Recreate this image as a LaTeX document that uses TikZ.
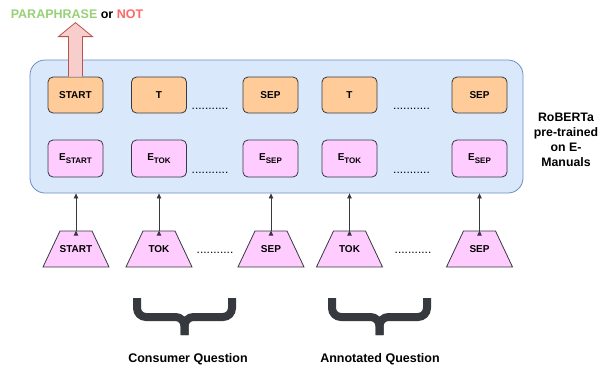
\documentclass[tikz,border=0pt]{standalone}
\usepackage{fontspec}
\setmainfont{Liberation Sans}
\usetikzlibrary{arrows.meta,shapes.geometric}

\definecolor{boxblue}{HTML}{DAE8FC}
\definecolor{lineblue}{HTML}{6C8EBF}
\definecolor{boxorange}{HTML}{FFCC99}
\definecolor{boxpink}{HTML}{FFCCFF}
\definecolor{darkline}{HTML}{36393D}
\definecolor{arrowfill}{HTML}{F8CECC}
\definecolor{arrowline}{HTML}{B85450}
\definecolor{paragreen}{HTML}{97D077}
\definecolor{notred}{HTML}{FF6666}

\newcommand{\emb}[1]{E\raisebox{-2.5pt}{\fontsize{8}{9}\selectfont #1}}
\newcommand{\tok}[1]{\makebox[32pt]{#1}}

\begin{document}
\begin{tikzpicture}[x=1pt,y=-1pt]
\useasboundingbox (0,0) rectangle (602,368);
% encoder block
\node[draw=lineblue,fill=boxblue,line width=0.8pt,rounded corners=15pt,
      minimum width=493pt,minimum height=133pt] (roberta) at (276.5,126.5) {};
\node[align=center,font=\bfseries\fontsize{12.3}{15}\selectfont] (rlabel) at (566,139.5)
      {RoBERTa\\pre-trained\\on E-\\Manuals};
% output tokens
\begin{scope}[every node/.style={draw=darkline,fill=boxorange,line width=0.8pt,
              rounded corners=5pt,minimum width=55pt,minimum height=36pt,
              font=\bfseries\fontsize{10}{12}\selectfont}]
    \node (h1) at (75.5,95) {START};
    \node (h2) at (159,95) {T};
    \node (h3) at (270.5,95) {SEP};
    \node (h4) at (349.5,95) {T};
    \node (h5) at (479.5,95) {SEP};
\end{scope}
% embeddings
\begin{scope}[every node/.style={draw=darkline,fill=boxpink,line width=0.8pt,
              rounded corners=5pt,minimum width=55pt,minimum height=37pt,
              font=\bfseries\fontsize{10}{12}\selectfont}]
    \node (e1) at (75.5,158.5) {\emb{START}};
    \node (e2) at (159,158.5) {\emb{TOK}};
    \node (e3) at (270.5,158.5) {\emb{SEP}};
    \node (e4) at (349.5,158.5) {\emb{TOK}};
    \node (e5) at (479.5,158.5) {\emb{SEP}};
\end{scope}
% input tokens
\begin{scope}[every node/.style={draw=darkline,fill=boxpink,line width=0.8pt,
              trapezium,trapezium left angle=64.7,trapezium right angle=64.7,
              inner xsep=0pt,inner ysep=14.5pt,text height=7pt,text depth=0pt,
              font=\bfseries\fontsize{10}{12}\selectfont}]
    \node (t1) at (76,249) {\tok{START}};
    \node (t2) at (159,249) {\tok{TOK}};
    \node (t3) at (271,249) {\tok{SEP}};
    \node (t4) at (349.5,249) {\tok{TOK}};
    \node (t5) at (479.5,249) {\tok{SEP}};
\end{scope}
% dots
\begin{scope}[every node/.style={anchor=base,inner sep=0pt,
              font=\fontsize{12}{14}\selectfont}]
    \node (d1) at (210,109.5) {...........};
    \node (d2) at (411.5,109.5) {...........};
    \node (d3) at (210,173) {...........};
    \node (d4) at (411.5,173) {...........};
    \node (d5) at (215,253) {...........};
    \node (d6) at (413,253) {...........};
\end{scope}
% inputs into the encoder
\begin{scope}[every path/.style={draw=darkline,line width=0.8pt,
              -{Triangle[length=5pt,width=4.5pt]}}]
    \path (t1.north) edge (t1.north |- roberta.south);
    \path (t2.north) edge (t2.north |- roberta.south);
    \path (t3.north) edge (t3.north |- roberta.south);
    \path (t4.north) edge (t4.north |- roberta.south);
    \path (t5.north) edge (t5.north |- roberta.south);
\end{scope}
% classification output
\filldraw[draw=arrowline,fill=arrowfill,line width=0.8pt]
    ([xshift=-7pt]h1.north) -- ++(0,-40) -- ++(-10,0) -- ++(17,-14)
    -- ++(17,14) -- ++(-10,0) -- ++(0,40);
\node[font=\bfseries\fontsize{12.5}{15}\selectfont] (verdict) at (77,14)
    {\textcolor{paragreen}{PARAPHRASE} or \textcolor{notred}{NOT}};
% question braces
\begin{scope}[every path/.style={draw=darkline,line width=8pt,rounded corners=9pt}]
    \draw (137,298) -- (137,317) -- (184.5,317) -- (184.5,335);
    \draw (232,298) -- (232,317) -- (184.5,317) -- (184.5,335);
    \draw (332,298) -- (332,317) -- (379.5,317) -- (379.5,335);
    \draw (427,298) -- (427,317) -- (379.5,317) -- (379.5,335);
\end{scope}
\begin{scope}[every node/.style={font=\bfseries\fontsize{12.5}{15}\selectfont}]
    \node (consumer) at (188,359) {Consumer Question};
    \node (annotated) at (380,359) {Annotated Question};
\end{scope}
\end{tikzpicture}
\end{document}
